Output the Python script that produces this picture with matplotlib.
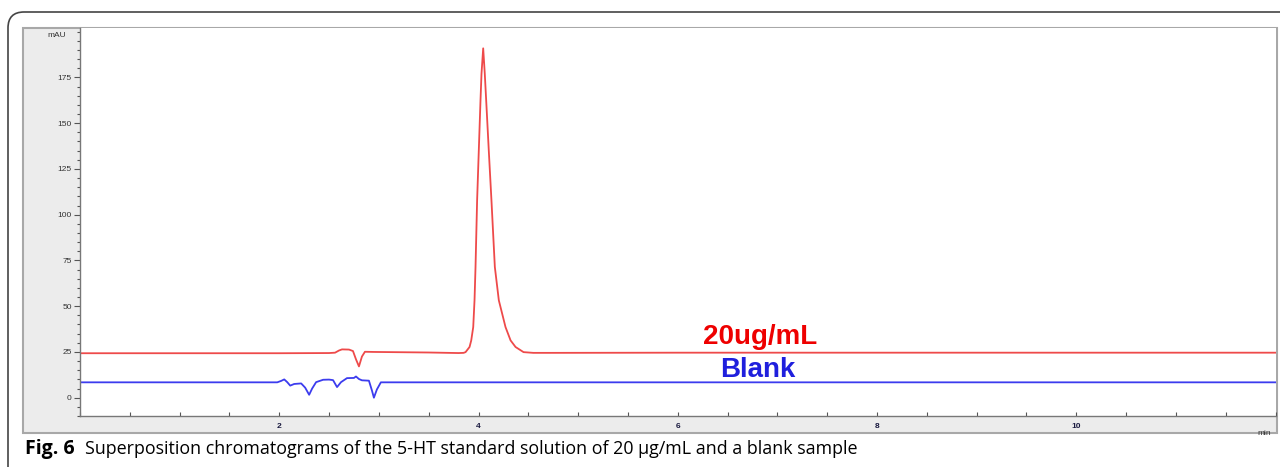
import matplotlib.pyplot as plt
from matplotlib.patches import Rectangle, FancyBboxPatch
from matplotlib.ticker import MultipleLocator

# retention time (min) / absorbance (mAU)
red_t = [0.0, 2.0, 2.50, 2.56, 2.60, 2.63, 2.70, 2.74, 2.77, 2.80, 2.83, 2.86, 2.95,
         3.5, 3.80, 3.85, 3.87, 3.91, 3.927, 3.947, 3.96, 3.97, 3.986, 4.003, 4.02, 4.03,
         4.047, 4.063, 4.077, 4.103, 4.13, 4.164, 4.204, 4.271, 4.322, 4.372, 4.452, 4.55,
         4.72, 6.0, 9.0, 12.0]
red_mau = [24.3, 24.3, 24.4, 24.6, 25.8, 26.4, 26.3, 25.5, 21.0, 17.1, 22.5, 25.1, 25.0,
           24.7, 24.4, 24.5, 24.9, 27.7, 31.3, 38.6, 53.2, 71.4, 107.8, 135.2, 162.5, 177.0,
           190.9, 177.0, 162.5, 135.2, 107.8, 71.4, 53.2, 38.6, 31.3, 27.7, 24.9, 24.5,
           24.5, 24.6, 24.6, 24.6]

blank_t = [0.0, 1.98, 2.02, 2.05, 2.08, 2.11, 2.15, 2.22, 2.26, 2.30, 2.33, 2.37, 2.44,
           2.50, 2.54, 2.58, 2.62, 2.68, 2.75, 2.77, 2.80, 2.83, 2.90, 2.93, 2.95, 2.98,
           3.02, 6.0, 12.0]
blank_mau = [8.4, 8.4, 9.2, 10.0, 8.5, 6.6, 7.5, 7.8, 5.5, 1.6, 5.0, 8.5, 9.8,
             9.9, 9.6, 5.8, 8.5, 10.7, 10.8, 11.6, 10.2, 9.5, 9.3, 4.0, 0.0, 4.5,
             8.4, 8.4, 8.4]

x_major = [2, 4, 6, 8, 10]
y_major = [0, 25, 50, 75, 100, 125, 150, 175]

fig = plt.figure(figsize=(12.8, 4.67), dpi=100)

# rounded frame of the journal figure box
frame = FancyBboxPatch((0.08, -1.0), 14.0, 5.55, boxstyle='round,pad=0,rounding_size=0.16',
                       transform=fig.dpi_scale_trans, facecolor='none',
                       edgecolor='#444444', linewidth=1.2, zorder=-2)
fig.patches.append(frame)

# grey panel of the instrument software
panel = Rectangle((0.018, 0.0728), 0.9797, 0.8672, transform=fig.transFigure,
                  facecolor='#ececec', edgecolor='#a8a8a8', linewidth=1.5, zorder=-1)
fig.patches.append(panel)

ax = fig.add_axes([0.0625, 0.1092, 0.934, 0.8308])
ax.set_facecolor('white')

ax.plot(red_t, red_mau, color='#ee4a4a', linewidth=1.3)
ax.plot(blank_t, blank_mau, color='#3c3cee', linewidth=1.3)

ax.set_xlim(0, 12)
ax.set_ylim(-10, 202)

ax.set_xticks(x_major)
ax.xaxis.set_minor_locator(MultipleLocator(0.5))
ax.set_yticks(y_major)
ax.yaxis.set_minor_locator(MultipleLocator(5))

ax.tick_params(axis='x', which='both', direction='in', length=3, width=0.8,
               colors='#555555', labelsize=6, labelcolor='#1a1a40', pad=5)
ax.tick_params(axis='y', which='major', direction='out', length=4, width=0.8,
               colors='#555555', labelsize=6, labelcolor='#333333', pad=2)
ax.tick_params(axis='y', which='minor', direction='out', length=2.5, width=0.8,
               colors='#555555')
for lab in ax.get_xticklabels():
    lab.set_fontweight('bold')
    lab.set_family('Liberation Sans')
for lab in ax.get_yticklabels():
    lab.set_family('Liberation Sans')

for side in ['top', 'right']:
    ax.spines[side].set_visible(False)
for side in ['left', 'bottom']:
    ax.spines[side].set_color('#777777')
    ax.spines[side].set_linewidth(1.0)

ax.text(-0.012, 198, 'mAU', transform=ax.get_yaxis_transform(), ha='right', va='center',
        fontsize=6, color='#333333', family='Liberation Sans')
ax.text(0.996, -0.045, 'min', transform=ax.transAxes, ha='right', va='center',
        fontsize=6, color='#333333', family='Liberation Sans')

ax.text(6.83, 33, '20ug/mL', color='#ee0000', fontsize=20, fontweight='bold',
        family='Liberation Sans', ha='center', va='center')
ax.text(6.80, 15, 'Blank', color='#1f1fdd', fontsize=20, fontweight='bold',
        family='Liberation Sans', ha='center', va='center')

# caption
cap1 = fig.text(25 / 1280, 0.0285, 'Fig. 6', fontsize=14, fontweight='bold',
                family='Open Sans', va='baseline', ha='left')
fig.canvas.draw()
bb = cap1.get_window_extent()
fig.text((bb.x1 + 10) / 1280, 0.0285,
         'Superposition chromatograms of the 5-HT standard solution of 20 \u00b5g/mL and a blank sample',
         fontsize=12.85, family='Open Sans', va='baseline', ha='left')

fig.savefig('out.png', dpi=100)
